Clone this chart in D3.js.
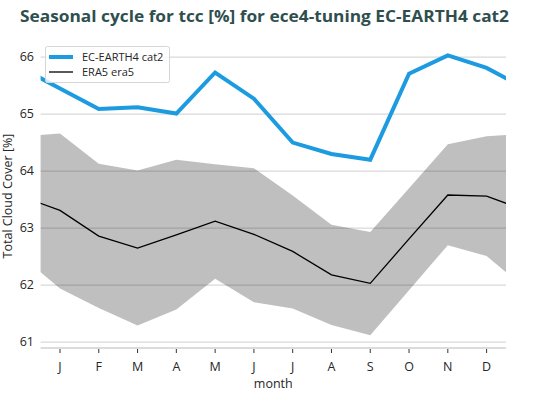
<!DOCTYPE html>
<html>
<head>
<meta charset="utf-8">
<script src="https://cdn.jsdelivr.net/npm/d3@7"></script>
<style>
  body { margin: 0; background: #fff; }
  text { font-family: "Open Sans", "Noto Sans", sans-serif; }
</style>
</head>
<body>
<div id="chart-area"></div>
<script>
// month labels, Jan..Dec
const months = ['J', 'F', 'M', 'A', 'M', 'J', 'J', 'A', 'S', 'O', 'N', 'D'];

// EC-EARTH4 cat2 monthly mean total cloud cover
const ecEarth = [65.45, 65.09, 65.12, 65.01, 65.73, 65.27, 64.50, 64.30, 64.20, 65.71, 66.03, 65.81];

// ERA5 monthly mean and spread
const era5 = [63.31, 62.86, 62.65, 62.88, 63.12, 62.89, 62.59, 62.18, 62.03, 62.81, 63.58, 63.56];
const era5Upper = [64.66, 64.13, 64.01, 64.20, 64.12, 64.05, 63.57, 63.06, 62.93, 63.70, 64.47, 64.61];
const era5Lower = [61.94, 61.60, 61.29, 61.57, 62.11, 61.70, 61.59, 61.30, 61.12, 61.91, 62.70, 62.51];

const yTicks = [61, 62, 63, 64, 65, 66];

const width = 535, height = 401;
const plotLeft = 40.6, plotRight = 506, plotTop = 40, plotBottom = 348;

const svg = d3.select('#chart-area')
    .append('svg')
    .attr('width', width)
    .attr('height', height);

const x = d3.scaleLinear().domain([0.5, 12.5]).range([plotLeft, plotRight]);
const y = d3.scaleLinear().domain([66.3, 60.896]).range([plotTop, plotBottom]);

// wrap Dec before Jan and Jan after Dec so the cycle runs off both edges
function wrap(arr) {
    const pts = [{ m: 0, v: arr[11] }];
    arr.forEach((v, i) => pts.push({ m: i + 1, v: v }));
    pts.push({ m: 13, v: arr[0] });
    return pts;
}

svg.append('clipPath').attr('id', 'clip')
    .append('rect')
    .attr('x', plotLeft).attr('y', 0)
    .attr('width', plotRight - plotLeft).attr('height', plotBottom);

// gridlines
svg.append('g')
    .selectAll('line')
    .data(yTicks)
    .join('line')
    .attr('x1', plotLeft).attr('x2', plotRight)
    .attr('y1', d => y(d)).attr('y2', d => y(d))
    .attr('stroke', '#d9d9d9')
    .attr('stroke-width', 1.3);

const plot = svg.append('g').attr('clip-path', 'url(#clip)');

// ERA5 spread
const lowerPts = wrap(era5Lower);
const band = wrap(era5Upper).map((d, i) => ({ m: d.m, hi: d.v, lo: lowerPts[i].v }));
plot.append('path')
    .datum(band)
    .attr('d', d3.area().x(d => x(d.m)).y0(d => y(d.lo)).y1(d => y(d.hi)))
    .attr('fill', '#000')
    .attr('fill-opacity', 0.25);

const line = d3.line().x(d => x(d.m)).y(d => y(d.v));

plot.append('path')
    .datum(wrap(era5))
    .attr('d', line)
    .attr('fill', 'none')
    .attr('stroke', '#000')
    .attr('stroke-width', 1.3);

plot.append('path')
    .datum(wrap(ecEarth))
    .attr('d', line)
    .attr('fill', 'none')
    .attr('stroke', '#1c9be1')
    .attr('stroke-width', 4);

// X axis
svg.append('line')
    .attr('x1', plotLeft).attr('x2', plotRight)
    .attr('y1', plotBottom).attr('y2', plotBottom)
    .attr('stroke', '#d0d0d0')
    .attr('stroke-width', 1.5);

const xAxis = svg.append('g');
xAxis.selectAll('line')
    .data(months)
    .join('line')
    .attr('x1', (d, i) => x(i + 1)).attr('x2', (d, i) => x(i + 1))
    .attr('y1', plotBottom + 1).attr('y2', plotBottom + 5)
    .attr('stroke', '#333')
    .attr('stroke-width', 1);
xAxis.selectAll('text')
    .data(months)
    .join('text')
    .attr('x', (d, i) => x(i + 1))
    .attr('y', 371)
    .attr('text-anchor', 'middle')
    .attr('font-size', 12.5)
    .attr('fill', '#262626')
    .text(d => d);

svg.append('text')
    .attr('x', (plotLeft + plotRight) / 2)
    .attr('y', 388)
    .attr('text-anchor', 'middle')
    .attr('font-size', 12.5)
    .attr('fill', '#262626')
    .text('month');

// Y axis labels
svg.append('g')
    .selectAll('text')
    .data(yTicks)
    .join('text')
    .attr('x', 34)
    .attr('y', d => y(d))
    .attr('dy', '0.35em')
    .attr('text-anchor', 'end')
    .attr('font-size', 12.5)
    .attr('fill', '#262626')
    .text(d => d);

svg.append('text')
    .attr('transform', 'translate(12,' + 196 + ') rotate(-90)')
    .attr('text-anchor', 'middle')
    .attr('font-size', 12.5)
    .attr('fill', '#262626')
    .text('Total Cloud Cover [%]');

// title
svg.append('text')
    .attr('x', 20)
    .attr('y', 22)
    .attr('font-size', 16)
    .attr('font-weight', 'bold')
    .attr('fill', '#2f4f4f')
    .attr('textLength', 489)
    .attr('lengthAdjust', 'spacingAndGlyphs')
    .text('Seasonal cycle for tcc [%] for ece4-tuning EC-EARTH4 cat2');

// legend
const legend = svg.append('g');
legend.append('rect')
    .attr('x', 45.5).attr('y', 46.5)
    .attr('width', 124).attr('height', 36)
    .attr('rx', 2)
    .attr('fill', '#fff')
    .attr('fill-opacity', 0.8)
    .attr('stroke', '#d6d6d6');

const legendItems = [
    { name: 'EC-EARTH4 cat2', color: '#1c9be1', w: 4 },
    { name: 'ERA5 era5', color: '#000', w: 1.3 }
];
legend.selectAll('line')
    .data(legendItems)
    .join('line')
    .attr('x1', 49).attr('x2', 73)
    .attr('y1', (d, i) => 57 + i * 15).attr('y2', (d, i) => 57 + i * 15)
    .attr('stroke', d => d.color)
    .attr('stroke-width', d => d.w);
legend.selectAll('text')
    .data(legendItems)
    .join('text')
    .attr('x', 82)
    .attr('y', (d, i) => 57 + i * 15)
    .attr('dy', '0.35em')
    .attr('font-size', 11)
    .attr('fill', '#262626')
    .text(d => d.name);
</script>
</body>
</html>
